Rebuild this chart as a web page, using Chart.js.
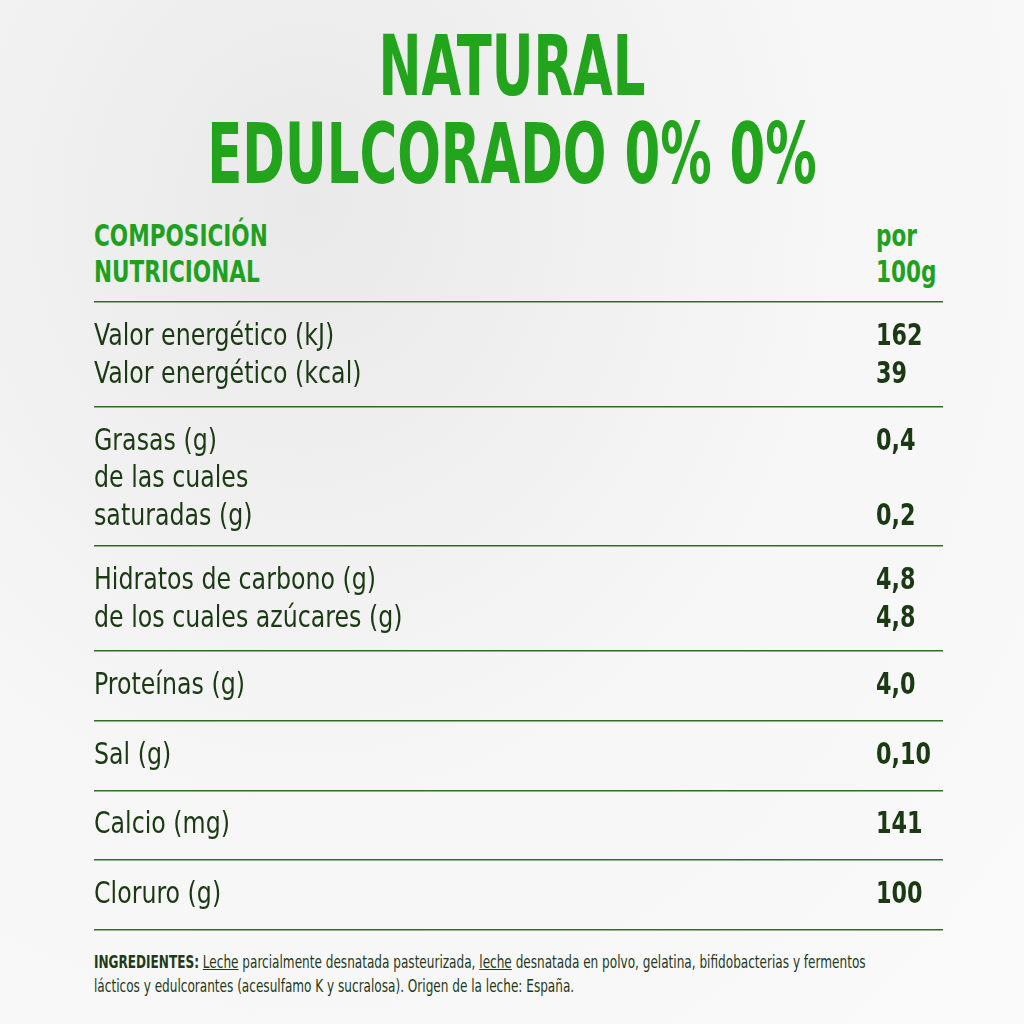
<!DOCTYPE html>
<html><head><meta charset="utf-8">
<script src="https://cdn.jsdelivr.net/npm/chart.js@4/dist/chart.umd.min.js"></script>
<style>
html,body{margin:0;width:1024px;height:1024px;overflow:hidden;background:radial-gradient(ellipse at 30% 20%,#e9e9e9 0%,#f6f6f6 50%,#fafafa 100%);font-family:"DejaVu Sans Condensed","Liberation Sans Narrow",sans-serif;}
#t{position:absolute;top:22px;left:0;width:1024px;text-align:center;color:#22a51c;font-weight:bold;font-size:84px;line-height:88px;transform:scaleX(0.68);}
.h{position:absolute;color:#1fa11f;font-weight:bold;font-size:30px;line-height:36px;transform:scaleX(0.8);transform-origin:left;}
#ing{position:absolute;left:94px;top:950px;width:1100px;white-space:nowrap;color:#1e3a18;font-size:17px;line-height:24px;transform:scaleX(0.79);transform-origin:left;}
canvas{position:absolute;left:0;top:0;}
</style></head><body>
<div id="t">NATURAL<br>EDULCORADO 0% 0%</div>
<div class="h" style="left:94px;top:218px">COMPOSICIÓN<br>NUTRICIONAL</div>
<div class="h" style="left:876px;top:218px">por<br>100g</div>
<div id="ing"><b>INGREDIENTES:</b> <u>Leche</u> parcialmente desnatada pasteurizada, <u>leche</u> desnatada en polvo, gelatina, bifidobacterias y fermentos<br>lácticos y edulcorantes (acesulfamo K y sucralosa). Origen de la leche: España.</div>
<canvas id="c" width="1024" height="1024"></canvas>
<script>
const rowLabels=[["Valor energético (kJ)","Valor energético (kcal)"],["Grasas (g)","de las cuales","saturadas (g)"],["Hidratos de carbono (g)","de los cuales azúcares (g)"],["Proteínas (g)"],["Sal (g)"],["Calcio (mg)"],["Cloruro (g)"]];
const rowValues=[["162","39"],["0,4","","0,2"],["4,8","4,8"],["4,0"],["0,10"],["141"],["100"]];
const bounds=[0];rowLabels.forEach(r=>bounds.push(bounds[bounds.length-1]+r.length+1));
const total=bounds[bounds.length-1];
const pts=[];rowLabels.forEach((r,i)=>r.forEach((_,j)=>pts.push({x:0,y:bounds[i]+1+j*1.08})));
const F='"DejaVu Sans Condensed","Liberation Sans Narrow",sans-serif';
function txt(c,t,x,y,font,sx){c.save();c.translate(x,y);c.scale(sx,1);c.font=font;c.fillText(t,0,0);c.restore();}
const textPlugin={id:'txt',afterDraw(ch){const c=ch.ctx,y=ch.scales.y;c.save();c.fillStyle='#1b3a14';c.textBaseline='middle';
rowLabels.forEach((r,i)=>r.forEach((t,j)=>{const py=y.getPixelForValue(bounds[i]+1+j*1.08);txt(c,t,94,py,'31px '+F,0.85);txt(c,rowValues[i][j],876,py,'bold 31px '+F,0.8);}));c.restore();}};
new Chart(document.getElementById('c'),{type:'scatter',data:{datasets:[{data:pts,pointRadius:0}]},
options:{responsive:false,animation:false,layout:{padding:{left:94,right:81,top:302,bottom:94}},
plugins:{legend:{display:false},tooltip:{enabled:false}},
scales:{x:{display:false,min:0,max:1},
y:{reverse:true,min:0,max:total,afterBuildTicks:s=>{s.ticks=bounds.map(v=>({value:v}));},
ticks:{display:false},border:{display:false},grid:{color:'#2f6e22',lineWidth:1.5,drawTicks:false}}}},plugins:[textPlugin]});
</script></body></html>
